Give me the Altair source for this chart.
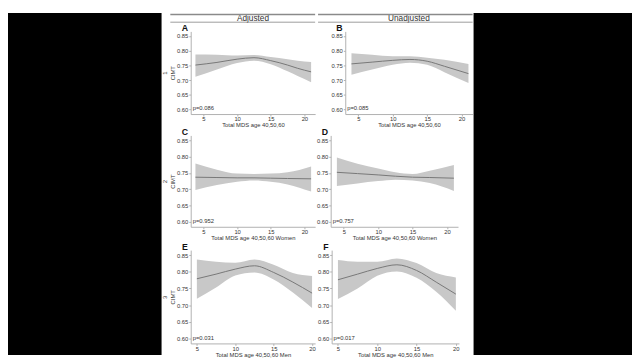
import altair as alt
import pandas as pd

FONT = "Liberation Sans"

col_headers = ["Adjusted", "Unadjusted"]
row_labels = ["1", "2", "3"]
panel_letters = ["A", "B", "C", "D", "E", "F"]
p_labels = ["p=0.086", "p=0.085", "p=0.952", "p=0.757", "p=0.031", "p=0.017"]
x_titles = ["Total MDS age 40,50,60", "Total MDS age 40,50,60",
            "Total MDS age 40,50,60 Women", "Total MDS age 40,50,60 Women",
            "Total MDS age 40,50,60 Men", "Total MDS age 40,50,60 Men"]
y_title = "CIMT"
x_ticks = [5, 10, 15, 20]
y_ticks = [0.60, 0.65, 0.70, 0.75, 0.80, 0.85]

# Panel A
a_x = [3.8, 7, 10, 12.5, 15, 17.5, 19, 21]
a_fit = [0.751, 0.760, 0.771, 0.776, 0.766, 0.751, 0.740, 0.728]
a_hi = [0.787, 0.786, 0.783, 0.785, 0.778, 0.771, 0.766, 0.761]
a_lo = [0.711, 0.736, 0.758, 0.766, 0.754, 0.730, 0.714, 0.693]
# Panel B
b_x = [4.0, 7, 10, 12.5, 15, 17.5, 21]
b_fit = [0.755, 0.761, 0.767, 0.770, 0.764, 0.747, 0.722]
b_hi = [0.791, 0.786, 0.781, 0.781, 0.776, 0.769, 0.755]
b_lo = [0.718, 0.736, 0.752, 0.759, 0.752, 0.727, 0.690]
# Panel C
c_x = [3.8, 7, 10, 12.5, 15, 17.5, 21]
c_fit = [0.737, 0.736, 0.735, 0.735, 0.734, 0.733, 0.732]
c_hi = [0.779, 0.760, 0.748, 0.747, 0.748, 0.752, 0.770]
c_lo = [0.698, 0.713, 0.723, 0.727, 0.723, 0.715, 0.693]
# Panel D
d_x = [4.0, 7, 10, 12.5, 15, 17.5, 21]
d_fit = [0.752, 0.748, 0.744, 0.740, 0.737, 0.736, 0.734]
d_hi = [0.797, 0.778, 0.764, 0.752, 0.747, 0.757, 0.774]
d_lo = [0.710, 0.718, 0.725, 0.729, 0.727, 0.719, 0.695]
# Panel E
e_x = [5, 7.5, 10, 12.5, 15, 17.5, 20]
e_fit = [0.779, 0.793, 0.808, 0.818, 0.798, 0.769, 0.736]
e_hi = [0.837, 0.830, 0.827, 0.837, 0.821, 0.796, 0.787]
e_lo = [0.719, 0.753, 0.789, 0.798, 0.777, 0.738, 0.691]
# Panel F
f_x = [5, 7.5, 10, 12.5, 15, 17.5, 20]
f_fit = [0.776, 0.793, 0.810, 0.821, 0.804, 0.769, 0.733]
f_hi = [0.835, 0.830, 0.830, 0.840, 0.826, 0.796, 0.783]
f_lo = [0.718, 0.750, 0.788, 0.801, 0.782, 0.740, 0.683]

PW_L = 128
PW_R = 131
ROW_H = [85, 94, 96]
BAND = "#c8c8c8"
LINE = "#767676"
TXT = "#333333"


def panel(i, xs, fit, lo, hi, xdom, left, header=None):
    pw = PW_L if left else PW_R
    row = i // 2
    ph = ROW_H[row]
    df = pd.DataFrame({"x": xs, "fit": fit, "lo": lo, "hi": hi})
    xsc = alt.Scale(domain=xdom, nice=False, zero=False)
    ysc = alt.Scale(domain=[0.585, 0.865], nice=False, zero=False)
    yaxis = alt.Axis(values=y_ticks, tickCount=12, format=".2f", labelOverlap=False,
                     title=[row_labels[row], y_title] if left else None,
                     titleLineHeight=8, titlePadding=1)
    xaxis = alt.Axis(values=x_ticks, tickCount=12, title=x_titles[i], labelOverlap=False,
                     labelPadding=0, titlePadding=0)
    base = alt.Chart(df)
    band = base.mark_area(color=BAND, opacity=1, interpolate="monotone").encode(
        x=alt.X("x:Q", scale=xsc, axis=xaxis),
        y=alt.Y("lo:Q", scale=ysc, axis=yaxis),
        y2="hi:Q",
    )
    ln = base.mark_line(color=LINE, strokeWidth=1, interpolate="monotone").encode(
        x="x:Q", y="fit:Q")
    one = pd.DataFrame({"p": [p_labels[i]], "k": [panel_letters[i]]})
    ptxt = alt.Chart(one).mark_text(align="left", baseline="middle", fontSize=6,
                                    font=FONT, color=TXT).encode(
        x=alt.value(2), y=alt.value(ph - 6), text="p:N")
    letter = alt.Chart(one).mark_text(align="center", baseline="middle", fontSize=9,
                                      fontWeight="bold", font=FONT, color="#111").encode(
        x=alt.value(-6), y=alt.value(-3.5), text="k:N")
    layers = [band, ln, ptxt, letter]
    if header is not None:
        hdf = pd.DataFrame({"h": [header]})
        htxt = alt.Chart(hdf).mark_text(align="center", baseline="middle", fontSize=8.5,
                                        font=FONT, color=TXT).encode(
            x=alt.value(pw / 2), y=alt.value(-13.5), text="h:N")
        x0 = -21 if left else -28
        r1 = alt.Chart(hdf).mark_rule(color="#8a8a8a", strokeWidth=1.5).encode(
            x=alt.value(x0), x2=alt.value(pw), y=alt.value(-17.5))
        r2 = alt.Chart(hdf).mark_rule(color="#9a9a9a", strokeWidth=1).encode(
            x=alt.value(x0), x2=alt.value(pw), y=alt.value(-9.5))
        layers += [htxt, r1, r2]
    return alt.layer(*layers).properties(width=pw, height=ph)


dom12 = [3.1, 21.6]
dom3 = [4.2, 20.4]
HS = 1
row1 = alt.hconcat(panel(0, a_x, a_fit, a_lo, a_hi, dom12, True, col_headers[0]),
                   panel(1, b_x, b_fit, b_lo, b_hi, dom12, False, col_headers[1]), spacing=HS)
row2 = alt.hconcat(panel(2, c_x, c_fit, c_lo, c_hi, dom12, True),
                   panel(3, d_x, d_fit, d_lo, d_hi, dom12, False), spacing=HS)
row3 = alt.hconcat(panel(4, e_x, e_fit, e_lo, e_hi, dom3, True),
                   panel(5, f_x, f_fit, f_lo, f_hi, dom3, False), spacing=HS)
inner = alt.vconcat(alt.vconcat(row1, row2, spacing=0), row3, spacing=2)

TOP = 19


def black_block(w, h):
    return alt.Chart(pd.DataFrame({"v": [0]})).mark_rect(color="black").encode(
        x=alt.value(0), x2=alt.value(w), y=alt.value(-TOP), y2=alt.value(h)
    ).properties(width=w, height=h)


chart = alt.hconcat(black_block(158, 352 - TOP), inner, black_block(163, 352 - TOP),
                    spacing=0).properties(
    padding=0, background="white"
).configure_view(strokeWidth=0).configure_axis(
    grid=False,
    labelOverlap=False,
    labelFont=FONT, titleFont=FONT,
    labelFontSize=6, titleFontSize=6,
    labelColor=TXT, titleColor=TXT,
    titleFontWeight="normal",
    domainColor="#b0b0b0", tickColor="#b0b0b0",
    tickSize=2, labelPadding=1, titlePadding=1,
)

chart.save("out.html", embed_options={"renderer": "svg", "actions": False})
